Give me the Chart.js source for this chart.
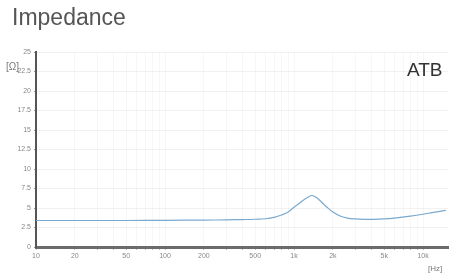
<!DOCTYPE html>
<html>
<head>
<meta charset="utf-8">
<script src="https://cdn.jsdelivr.net/npm/chart.js@4"></script>
<style>
  html, body { margin: 0; padding: 0; background: #fff; }
  #wrap { width: 458px; height: 277px; position: relative; }
</style>
</head>
<body>
<div id="wrap"><canvas id="imp"></canvas></div>
<script>
// frequency [Hz] and impedance [Ohm]
const freqs = [10, 20, 50, 100, 200, 300, 400, 500, 600, 700, 800, 900, 1000, 1100, 1200, 1300, 1380, 1500, 1600, 1800, 2000, 2300, 2600, 3000, 3500, 4000, 5000, 6000, 8000, 10000, 12000, 15000];
const impedance = [3.4, 3.4, 3.4, 3.42, 3.45, 3.48, 3.52, 3.56, 3.62, 3.8, 4.1, 4.5, 5.1, 5.6, 6.1, 6.45, 6.6, 6.3, 5.9, 5.1, 4.5, 3.95, 3.7, 3.6, 3.55, 3.55, 3.6, 3.7, 3.95, 4.2, 4.45, 4.7];

const xTicks = [10, 20, 50, 100, 200, 500, 1000, 2000, 5000, 10000];
const xLabels = ["10", "20", "50", "100", "200", "500", "1k", "2k", "5k", "10k"];
const xMinor = [30, 40, 60, 70, 80, 90, 300, 400, 600, 700, 800, 900, 3000, 4000, 6000, 7000, 8000, 9000];
const yTicks = [0, 2.5, 5, 7.5, 10, 12.5, 15, 17.5, 20, 22.5, 25];

const points = freqs.map((f, i) => ({ x: f, y: impedance[i] }));

// extra texts: title, units, label
const textPlugin = {
  id: "texts",
  afterDraw(chart) {
    const c = chart.ctx;
    c.save();
    c.fillStyle = "#555";
    c.font = "23px 'Liberation Sans', Arial, sans-serif";
    c.textBaseline = "alphabetic";
    c.fillText("Impedance", 12, 25);
    c.fillStyle = "#333";
    c.font = "19px 'Liberation Sans', Arial, sans-serif";
    c.fillText("ATB", 407, 76);
    c.fillStyle = "#777";
    c.font = "10px 'Liberation Sans', Arial, sans-serif";
    c.fillText("[\u03A9]", 6, 70);
    c.font = "8px 'Liberation Sans', Arial, sans-serif";
    c.fillText("[Hz]", 428, 271);
    c.restore();
  }
};

const ctx = document.getElementById("imp").getContext("2d");
new Chart(ctx, {
  type: "line",
  data: {
    datasets: [{
      data: points,
      borderColor: "#7aa9cf",
      borderWidth: 1.2,
      pointRadius: 0,
      tension: 0.4,
      fill: false
    }]
  },
  options: {
    responsive: true,
    maintainAspectRatio: false,
    animation: false,
    layout: { padding: { left: 0, top: 52, right: 10, bottom: 0 } },
    plugins: { legend: { display: false }, tooltip: { enabled: false } },
    scales: {
      x: {
        type: "logarithmic",
        min: 10,
        max: 15600,
        afterBuildTicks(scale) {
          scale.ticks = xTicks.concat(xMinor).map(v => ({ value: v }));
        },
        afterFit(scale) { scale.height = 30; },
        ticks: {
          autoSkip: false,
          maxRotation: 0,
          color: "#888",
          font: { size: 7, family: "'Liberation Sans', Arial, sans-serif" },
          padding: 2,
          callback(v) {
            const i = xTicks.indexOf(v);
            return i >= 0 ? xLabels[i] : "";
          }
        },
        grid: { color: "rgba(0,0,0,0.03)", tickLength: 3, tickColor: "#bbb" },
        border: { color: "#6b6b6b", width: 3 }
      },
      y: {
        min: 0,
        max: 25,
        afterBuildTicks(scale) {
          scale.ticks = yTicks.map(v => ({ value: v }));
        },
        afterFit(scale) { scale.width = 36; },
        ticks: {
          color: "#888",
          font: { size: 7, family: "'Liberation Sans', Arial, sans-serif" },
          padding: 3,
          callback: v => String(v)
        },
        grid: { color: "rgba(0,0,0,0.05)", tickLength: 2, tickColor: "#999" },
        border: { color: "#555", width: 2 }
      }
    }
  },
  plugins: [textPlugin]
});
</script>
</body>
</html>
